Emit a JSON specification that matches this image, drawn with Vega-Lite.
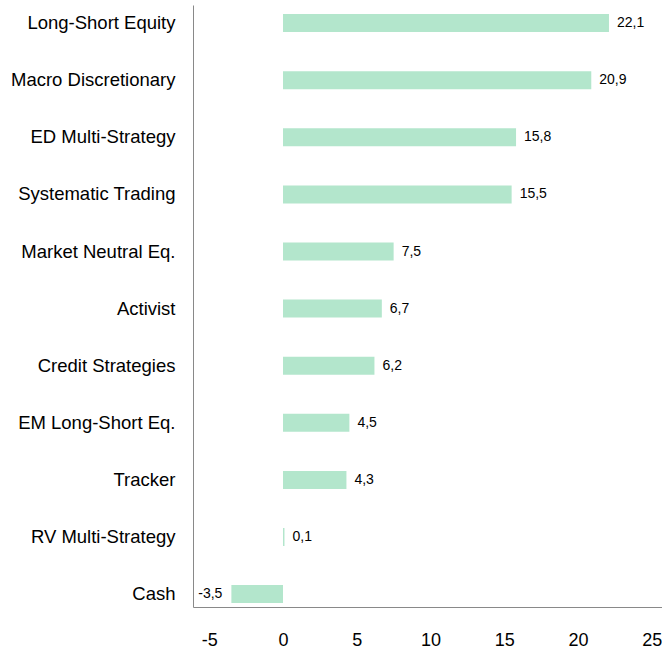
{
  "$schema": "https://vega.github.io/schema/vega-lite/v6.json",
  "width": 469,
  "height": 602,
  "autosize": "none",
  "padding": {"left": 193, "top": 5, "right": 0, "bottom": 43},
  "config": {
    "view": {"stroke": null},
    "font": "Liberation Sans",
    "locale": {
      "number": {"decimal": ",", "thousands": ".", "grouping": [3], "currency": ["", " €"], "minus": "-"}
    }
  },
  "data": {
    "values": [
      {"strategy": "Long-Short Equity", "value": 22.1},
      {"strategy": "Macro Discretionary", "value": 20.9},
      {"strategy": "ED Multi-Strategy", "value": 15.8},
      {"strategy": "Systematic Trading", "value": 15.5},
      {"strategy": "Market Neutral Eq.", "value": 7.5},
      {"strategy": "Activist", "value": 6.7},
      {"strategy": "Credit Strategies", "value": 6.2},
      {"strategy": "EM Long-Short Eq.", "value": 4.5},
      {"strategy": "Tracker", "value": 4.3},
      {"strategy": "RV Multi-Strategy", "value": 0.1},
      {"strategy": "Cash", "value": -3.5}
    ]
  },
  "encoding": {
    "y": {
      "field": "strategy",
      "type": "nominal",
      "sort": null,
      "scale": {"paddingInner": 0.685, "paddingOuter": 0.114, "align": 0.7},
      "axis": {
        "title": null,
        "ticks": false,
        "domainColor": "#898989",
        "domainWidth": 1,
        "labelFontSize": 18.5,
        "labelColor": "#000000",
        "labelPadding": 18,
        "labelLimit": 300
      }
    },
    "x": {
      "field": "value",
      "type": "quantitative",
      "scale": {"domain": [-6.102, 25.695], "nice": false, "zero": false},
      "axis": {
        "title": null,
        "values": [-5, 0, 5, 10, 15, 20, 25],
        "format": "d",
        "ticks": false,
        "grid": false,
        "domainColor": "#898989",
        "domainWidth": 1,
        "labelFontSize": 18,
        "labelColor": "#000000",
        "labelPadding": 24,
        "labelFlush": false
      }
    }
  },
  "layer": [
    {
      "mark": {"type": "bar", "color": "#b3e6cc"}
    },
    {
      "transform": [{"filter": "datum.value >= 0"}],
      "mark": {"type": "text", "align": "left", "baseline": "middle", "dx": 8, "fontSize": 14, "color": "#000000"},
      "encoding": {"text": {"field": "value", "type": "quantitative", "format": ".1f"}}
    },
    {
      "transform": [{"filter": "datum.value < 0"}],
      "mark": {"type": "text", "align": "right", "baseline": "middle", "dx": -9, "fontSize": 14, "color": "#000000"},
      "encoding": {"text": {"field": "value", "type": "quantitative", "format": ".1f"}}
    }
  ]
}
